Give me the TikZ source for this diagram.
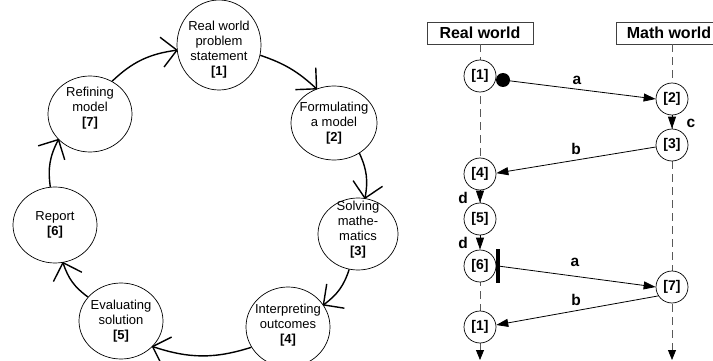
\documentclass[tikz,border=0pt]{standalone}
\usepackage{fontspec}
\setmainfont{Liberation Sans}
\usetikzlibrary{shapes.geometric,arrows.meta}

\pgfdeclarearrow{
  name = Open Vee,
  parameters = {\the\pgfarrowlength,\the\pgfarrowwidth},
  setup code = {
    \pgfarrowssettipend{0pt}
    \pgfarrowssetlineend{-0.3pt}
    \pgfarrowssavethe\pgfarrowlength
    \pgfarrowssavethe\pgfarrowwidth
  },
  drawing code = {
    \pgfsetroundjoin
    \pgfpathmoveto{\pgfqpoint{-\pgfarrowlength}{.5\pgfarrowwidth}}
    \pgfpathlineto{\pgfpointorigin}
    \pgfpathlineto{\pgfqpoint{-\pgfarrowlength}{-.5\pgfarrowwidth}}
    \pgfusepathqstroke
  },
  defaults = {length=14pt, width=28pt}
}

\begin{document}
\begin{tikzpicture}[x=1pt, y=-1pt,
    stage/.style={draw, ellipse, line width=0.7pt, inner sep=0pt, minimum width=84pt, minimum height=76pt},
    stagetext/.style={align=center, inner sep=0pt, font=\fontsize{13}{15}\selectfont},
    flow/.style={-{Open Vee[length=15pt, width=30pt]}, line width=1.4pt, bend left=18},
    world/.style={draw=black!75, line width=0.8pt, minimum width=106pt, minimum height=22pt, inner sep=0pt, font=\fontsize{16}{18}\selectfont\bfseries},
    phase/.style={draw, circle, fill=white, line width=0.7pt, minimum size=32pt, inner sep=0pt, font=\fontsize{14}{16}\selectfont\bfseries},
    lifeline/.style={draw=black!65, line width=0.8pt, dash pattern=on 8pt off 5pt, -{Triangle[length=10pt, width=8pt, color=black]}},
    msg/.style={line width=0.8pt, -{Triangle[length=12pt, width=8pt]}},
    msglabel/.style={inner sep=0pt, font=\fontsize{15.5}{17}\selectfont\bfseries}]

\useasboundingbox (0,0) rectangle (713,361);

	\node (s1) [stage, minimum height=90pt, label={[stagetext, yshift=-5pt]center:Real world\\problem\\statement\\\textbf{[1]}}] at (219,45) {};
	\node (s2) [stage, minimum width=86pt, minimum height=74pt, label={[stagetext]center:Formulating\\a model\\\textbf{[2]}}] at (334,123) {};
	\node (s3) [stage, minimum width=80pt, minimum height=72pt, label={[stagetext, yshift=4pt]center:Solving\\mathe-\\matics\\\textbf{[3]}}] at (358,234) {};
	\node (s4) [stage, minimum height=80pt, label={[stagetext, yshift=2pt]center:Interpreting\\outcomes\\\textbf{[4]}}] at (288,327) {};
	\node (s5) [stage, label={[stagetext]center:Evaluating\\solution\\\textbf{[5]}}] at (121,321) {};
	\node (s6) [stage, label={[stagetext]center:Report\\\textbf{[6]}}] at (55,225) {};
	\node (s7) [stage, label={[stagetext, yshift=6pt]center:Refining\\model\\\textbf{[7]}}] at (90,114) {};

	\draw [flow, bend left=12] (s1.-14) to (s2.117);
	\draw [flow] (s2.-50) to (s3.79);
	\draw [flow] (s3.-104) to (s4.32);
	\draw [flow] (s4.209) to (s5.-39);
	\draw [flow] (s5.144) to (s6.-78);
	\draw [flow] (s6.97) to (s7.219);
	\draw [flow] (s7.56) to (s1.187);

	\node (rw) [world] at (480,33) {Real world};
	\node (mw) [world] at (669,33) {Math world};
	\coordinate (rwEnd) at (480,360);
	\coordinate (mwEnd) at (672,360);
	\draw [lifeline] (rw) -- (rwEnd);
	\draw [lifeline] (mwEnd |- mw.south) -- (mwEnd);

	\node (p1) [phase] at (480,76) {[1]};
	\node (p2) [phase] at (672,99) {[2]};
	\node (p3) [phase] at (672,145) {[3]};
	\node (p4) [phase] at (480,174) {[4]};
	\node (p5) [phase] at (480,219) {[5]};
	\node (p6) [phase] at (480,266) {[6]};
	\node (p7) [phase] at (672,287) {[7]};
	\node (p8) [phase] at (480,327) {[1]};

	\node (start) [circle, fill, inner sep=0pt, minimum size=14pt] at (503,80) {};
	\node (stop) [fill, inner sep=0pt, minimum width=4pt, minimum height=34pt] at (498,266) {};

	\draw [msg] (start) -- (p2.west);
	\draw [msg] (p2) -- (p3);
	\draw [msg] (p3.187) -- (p4.3);
	\draw [msg] (p4) -- (p5);
	\draw [msg] (p5) -- (p6);
	\draw [msg] (stop) -- (p7.west);
	\draw [msg] (p7.213) -- (p8.7);

	\node (a1) [msglabel] at (577,80) {a};
	\node (c1) [msglabel] at (691,123) {c};
	\node (b1) [msglabel] at (576,149) {b};
	\node (d1) [msglabel] at (463,198) {d};
	\node (d2) [msglabel] at (463,243) {d};
	\node (a2) [msglabel] at (575,262) {a};
	\node (b2) [msglabel] at (576,300) {b};
\end{tikzpicture}
\end{document}
